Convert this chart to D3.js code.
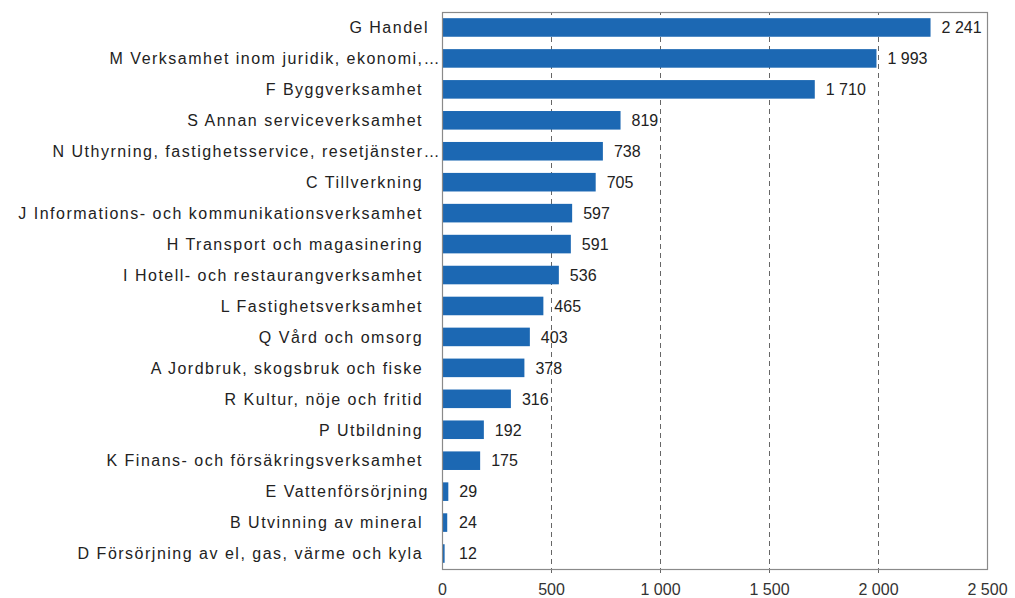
<!DOCTYPE html>
<html>
<head>
<meta charset="utf-8">
<script src="https://cdn.jsdelivr.net/npm/d3@7"></script>
<style>
  body { margin: 0; background: #fff; }
  svg { display: block; }
</style>
</head>
<body>
<svg id="chart" width="1015" height="598"></svg>
<script>
// some labels carry a trailing space in the source table
const categories = [
  'G Handel',
  'M Verksamhet inom juridik, ekonomi,\u2026',
  'F Byggverksamhet ',
  'S Annan serviceverksamhet ',
  'N Uthyrning, fastighetsservice, resetjänster\u2026',
  'C Tillverkning ',
  'J Informations- och kommunikationsverksamhet ',
  'H Transport och magasinering ',
  'I Hotell- och restaurangverksamhet ',
  'L Fastighetsverksamhet ',
  'Q Vård och omsorg ',
  'A Jordbruk, skogsbruk och fiske ',
  'R Kultur, nöje och fritid ',
  'P Utbildning ',
  'K Finans- och försäkringsverksamhet ',
  'E Vattenförsörjning',
  'B Utvinning av mineral ',
  'D Försörjning av el, gas, värme och kyla '
];
const values = [2241, 1993, 1710, 819, 738, 705, 597, 591, 536, 465, 403, 378, 316, 192, 175, 29, 24, 12];
const xTicks = [0, 500, 1000, 1500, 2000, 2500];

const style = {
  fontFamily: 'Liberation Sans, Arial, sans-serif',
  barColor: '#1c68b3',
  textColor: '#222',
  tickTextColor: '#333',
  gridColor: '#666',
  borderColor: '#8a8a8a',
  fontSize: '16px',
  labelSpacing: '1.5px',
  gridDash: '5,4'
};

const locale = d3.formatLocale({ decimal: ',', thousands: '\u00a0', grouping: [3], currency: ['', ' kr'] });
const fmt = locale.format(',d');

const svg = d3.select('#chart');
const w = +svg.attr('width');
const h = +svg.attr('height');
const margin = { top: 12, right: 28, bottom: 29, left: 442 };
const width = w - margin.left - margin.right;
const height = h - margin.top - margin.bottom;

const main = svg.append('g')
  .attr('transform', `translate(${margin.left}, ${margin.top})`);

const xScale = d3.scaleLinear().domain([0, 2500]).range([0, width]);
const yScale = d3.scaleBand()
  .domain(categories)
  .range([0, height])
  .paddingInner(0.4)
  .paddingOuter(0.2);

// grid + x axis
const xAxis = d3.axisBottom(xScale)
  .tickValues(xTicks)
  .tickFormat(fmt)
  .tickSize(-height)
  .tickPadding(12);

const xAxisSel = main.append('g')
  .attr('transform', `translate(0, ${height})`)
  .call(xAxis);

xAxisSel.select('.domain').remove();
xAxisSel.selectAll('.tick line')
  .attr('y1', 4)
  .attr('stroke', style.gridColor)
  .attr('stroke-dasharray', style.gridDash)
  .attr('display', d => (d === 0 || d === 2500) ? 'none' : null);
xAxisSel.selectAll('.tick text')
  .attr('fill', style.tickTextColor)
  .attr('dy', '0.9em')
  .style('font-size', style.fontSize)
  .style('font-family', style.fontFamily);

// bars
main.selectAll('rect.bar')
  .data(values)
  .enter()
  .append('rect')
    .attr('class', 'bar')
    .attr('x', xScale(0))
    .attr('y', (d, i) => yScale(categories[i]))
    .attr('width', d => xScale(d) - xScale(0))
    .attr('height', yScale.bandwidth())
    .attr('fill', style.barColor);

// value labels
main.selectAll('text.value')
  .data(values)
  .enter()
  .append('text')
    .attr('class', 'value')
    .attr('x', d => Math.max(xScale(d), xScale(0) + 6) + 11)
    .attr('y', (d, i) => yScale(categories[i]) + yScale.bandwidth() / 2)
    .attr('dy', '0.36em')
    .attr('fill', style.textColor)
    .style('font-size', style.fontSize)
    .style('font-family', style.fontFamily)
    .text(d => fmt(d));

// category labels
main.selectAll('text.cat')
  .data(categories)
  .enter()
  .append('text')
    .attr('class', 'cat')
    .attr('x', d => d.endsWith('\u2026') ? -1 : -13)
    .attr('y', d => yScale(d) + yScale.bandwidth() / 2)
    .attr('dy', '0.36em')
    .attr('text-anchor', 'end')
    .attr('fill', style.textColor)
    .style('white-space', 'pre')
    .style('font-size', style.fontSize)
    .style('letter-spacing', style.labelSpacing)
    .style('font-family', style.fontFamily)
    .text(d => d);

// plot border
main.append('rect')
  .attr('x', 0.5)
  .attr('y', 0.5)
  .attr('width', width)
  .attr('height', height)
  .attr('fill', 'none')
  .attr('stroke', style.borderColor)
  .attr('stroke-width', 1.2);
</script>
</body>
</html>
